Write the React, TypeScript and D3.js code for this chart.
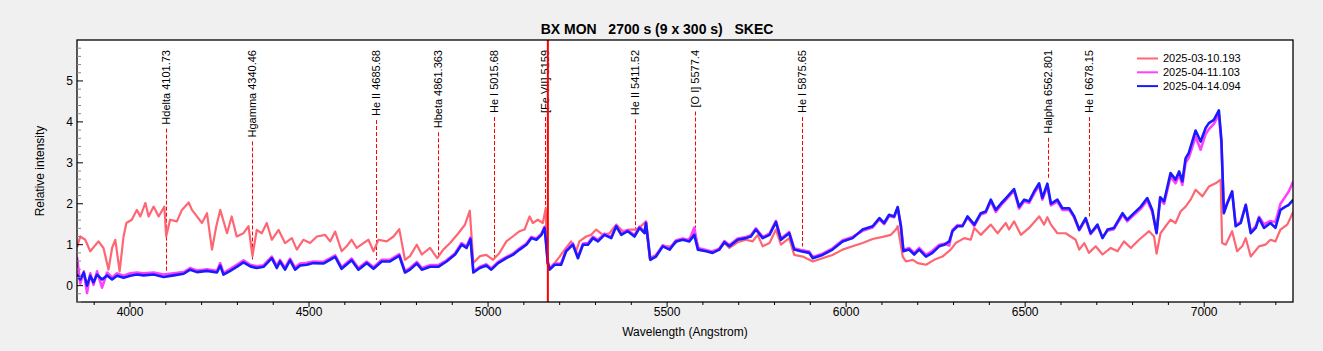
import React, { useEffect, useRef } from 'react';
import * as d3 from 'd3';

// spectrum 2025-03-10.193 (wavelength in Angstrom, relative intensity)
const pinkWave = [
  3852, 3861, 3875, 3889, 3912, 3926, 3940, 3950, 3959, 3971, 3982, 3990, 4005, 4019, 4029, 4043, 4052, 4066, 4080, 4096,
  4101, 4112, 4131, 4145, 4164, 4173, 4187, 4201, 4215, 4229, 4241, 4252, 4271, 4284, 4298, 4317, 4331, 4342, 4354, 4368,
  4382, 4396, 4415, 4433, 4452, 4466, 4484, 4503, 4522, 4545, 4559, 4573, 4591, 4605, 4619, 4633, 4652, 4666, 4680, 4694,
  4717, 4736, 4752, 4768, 4782, 4801, 4815, 4838, 4858, 4875, 4894, 4917, 4935, 4949, 4959, 4977, 4995, 5014, 5032, 5051,
  5069, 5088, 5102, 5116, 5125, 5139, 5153, 5161, 5165, 5172, 5186, 5200, 5214, 5232, 5246, 5255, 5274, 5288, 5302, 5321,
  5339, 5358, 5376, 5395, 5413, 5427, 5441, 5451, 5469, 5488, 5511, 5534, 5558, 5576, 5590, 5618, 5646, 5660, 5674, 5697,
  5720, 5739, 5753, 5767, 5786, 5804, 5818, 5841, 5855, 5879, 5907, 5934, 5962, 5990, 6018, 6046, 6074, 6102, 6125, 6139,
  6144, 6158, 6167, 6186, 6200, 6223, 6246, 6269, 6292, 6306, 6330, 6348, 6358, 6376, 6404, 6423, 6446, 6455, 6469, 6488,
  6511, 6539, 6553, 6562, 6572, 6590, 6613, 6641, 6651, 6665, 6678, 6697, 6716, 6739, 6758, 6776, 6795, 6818, 6846, 6860,
  6867, 6878, 6906, 6920, 6934, 6948, 6962, 6976, 6995, 7013, 7032, 7046, 7050, 7060, 7078, 7092, 7106, 7116, 7130, 7153,
  7171, 7185, 7199, 7213, 7232, 7249,
];
const pinkFlux = [
  0.93, 1.2, 1.12, 0.84, 1.08, 0.92, 0.39, 0.92, 1.12, 0.35, 1.2, 1.53, 1.61, 1.85, 1.69, 2.02, 1.69, 1.93, 1.69, 1.93,
  1.2, 1.61, 1.57, 1.85, 2.03, 1.85, 1.69, 1.53, 1.77, 0.88, 1.45, 1.85, 1.28, 1.69, 1.2, 1.28, 1.45, 0.72, 1.36, 1.28,
  1.53, 1.12, 1.36, 1.04, 1.16, 0.88, 1.12, 1.04, 1.2, 1.24, 1.08, 1.32, 0.84, 0.96, 1.12, 0.92, 1.04, 1.12, 0.84, 1.12,
  1.08, 1.2, 1.38, 0.63, 0.72, 1.0, 0.76, 0.92, 0.67, 0.88, 1.04, 1.28, 1.48, 1.83, 0.55, 0.72, 0.75, 0.63, 0.8, 1.08,
  1.2, 1.33, 1.37, 1.69, 1.53, 1.61, 1.53, 1.89, 0.55, 0.43, 0.55, 0.71, 0.88, 1.08, 0.84, 1.08, 1.2, 1.24, 1.37, 1.24,
  1.28, 1.49, 1.33, 1.37, 1.37, 1.45, 1.57, 0.67, 0.75, 0.96, 0.96, 1.12, 1.12, 1.28, 0.88, 0.84, 0.88, 1.04, 0.92, 1.06,
  1.12, 1.08, 1.24, 0.96, 1.04, 1.37, 1.0, 1.16, 0.75, 0.71, 0.59, 0.67, 0.75, 0.88, 0.96, 1.04, 1.14, 1.19, 1.24, 1.37,
  1.45, 0.71, 0.59, 0.63, 0.55, 0.51, 0.63, 0.71, 0.88, 1.04, 1.16, 1.12, 1.41, 1.24, 1.49, 1.28, 1.53, 1.37, 1.57, 1.24,
  1.41, 1.69, 1.49, 1.67, 1.49, 1.28, 1.28, 1.12, 0.88, 1.04, 0.8, 0.96, 0.76, 0.92, 0.84, 1.08, 0.92, 1.12, 1.33, 1.2,
  0.78, 1.28, 1.61, 1.53, 1.81, 1.93, 2.1, 2.34, 2.18, 2.42, 2.5, 2.59, 1.04, 1.0, 1.33, 0.84, 0.96, 1.16, 0.71, 0.96,
  1.0, 1.12, 1.08, 1.37, 1.49, 1.81,
];

// spectra 2025-04-11.103 and 2025-04-14.094 share one wavelength grid
const blueWave = [
  3852, 3861, 3871, 3880, 3889, 3898, 3908, 3922, 3936, 3950, 3964, 3982, 4001, 4019, 4038, 4066, 4094, 4122, 4150, 4168,
  4187, 4215, 4243, 4252, 4261, 4280, 4298, 4317, 4336, 4354, 4373, 4396, 4410, 4419, 4433, 4447, 4461, 4475, 4494, 4512,
  4540, 4573, 4591, 4619, 4638, 4661, 4680, 4703, 4726, 4752, 4768, 4782, 4801, 4815, 4838, 4861, 4884, 4908, 4926, 4940,
  4951, 4959, 4977, 4995, 5009, 5028, 5051, 5069, 5088, 5107, 5121, 5135, 5149, 5158, 5167, 5172, 5186, 5204, 5218, 5237,
  5251, 5265, 5279, 5293, 5307, 5325, 5344, 5358, 5372, 5390, 5409, 5423, 5437, 5441, 5453, 5469, 5488, 5507, 5525, 5544,
  5562, 5576, 5586, 5609, 5627, 5646, 5660, 5674, 5697, 5720, 5734, 5748, 5767, 5786, 5804, 5818, 5841, 5855, 5874, 5897,
  5907, 5934, 5962, 5990, 6018, 6046, 6074, 6093, 6106, 6120, 6134, 6144, 6153, 6160, 6176, 6190, 6204, 6223, 6241, 6260,
  6274, 6288, 6297, 6311, 6325, 6339, 6358, 6376, 6390, 6404, 6418, 6432, 6451, 6469, 6483, 6497, 6511, 6525, 6539, 6548,
  6562, 6572, 6590, 6604, 6623, 6637, 6651, 6669, 6683, 6702, 6716, 6730, 6748, 6772, 6785, 6804, 6823, 6841, 6855, 6867,
  6877, 6888, 6906, 6920, 6930, 6939, 6948, 6957, 6976, 6990, 7004, 7013, 7027, 7041, 7048, 7055, 7064, 7078, 7088, 7102,
  7116, 7130, 7144, 7153, 7167, 7185, 7199, 7213, 7227, 7236, 7249,
];
const magentaFlux = [
  0.7, 0.05, 0.35, -0.18, 0.3, 0.02, 0.35, -0.05, 0.32, 0.2, 0.3, 0.24, 0.3, 0.32, 0.3, 0.32, 0.27, 0.3, 0.33, 0.43,
  0.37, 0.4, 0.36, 0.55, 0.31, 0.41, 0.51, 0.62, 0.51, 0.47, 0.5, 0.71, 0.48, 0.63, 0.44, 0.66, 0.44, 0.54, 0.56, 0.59,
  0.58, 0.74, 0.45, 0.66, 0.43, 0.59, 0.45, 0.63, 0.63, 0.77, 0.36, 0.43, 0.58, 0.43, 0.5, 0.5, 0.62, 0.79, 1.04, 0.96,
  1.18, 0.35, 0.46, 0.52, 0.42, 0.58, 0.7, 0.78, 0.91, 1.03, 1.19, 1.15, 1.27, 1.44, 0.58, 0.42, 0.54, 0.54, 0.87, 1.03,
  0.7, 1.03, 1.04, 1.2, 1.12, 1.27, 1.19, 1.48, 1.27, 1.36, 1.23, 1.44, 1.31, 1.56, 0.66, 0.74, 0.99, 0.91, 1.11, 1.15,
  1.11, 1.42, 0.92, 0.87, 0.83, 0.91, 1.09, 0.99, 1.15, 1.19, 1.23, 1.4, 1.19, 1.27, 1.58, 1.15, 1.31, 0.91, 0.87, 0.83,
  0.7, 0.78, 0.91, 1.11, 1.19, 1.34, 1.42, 1.62, 1.5, 1.7, 1.67, 1.9, 1.45, 0.87, 0.92, 0.8, 0.92, 0.75, 0.85, 1.0,
  1.02, 0.98, 1.36, 1.48, 1.47, 1.66, 1.46, 1.74, 1.78, 2.06, 1.8, 1.96, 2.14, 2.32, 1.88, 2.06, 2.02, 2.25, 2.45, 2.1,
  2.44, 1.96, 2.05, 1.85, 1.85, 1.66, 1.35, 1.62, 1.26, 1.46, 1.18, 1.34, 1.38, 1.73, 1.57, 1.73, 1.88, 2.08, 1.8, 1.3,
  2.1, 2.0, 2.66, 2.5, 2.7, 2.46, 3.0, 3.12, 3.64, 3.32, 3.7, 3.82, 3.95, 4.18, 3.5, 1.8, 2.02, 2.3, 1.48, 1.56,
  1.98, 1.32, 1.45, 1.68, 1.5, 1.58, 1.55, 2.0, 2.18, 2.3, 2.55,
];
const blueFlux = [
  0.27, 0.15, 0.32, 0.0, 0.24, 0.08, 0.27, 0.15, 0.25, 0.15, 0.24, 0.19, 0.24, 0.27, 0.25, 0.27, 0.21, 0.25, 0.29, 0.39,
  0.33, 0.36, 0.32, 0.49, 0.27, 0.36, 0.46, 0.57, 0.47, 0.43, 0.46, 0.67, 0.43, 0.59, 0.39, 0.62, 0.39, 0.49, 0.51, 0.55,
  0.54, 0.7, 0.41, 0.62, 0.39, 0.55, 0.41, 0.59, 0.59, 0.73, 0.32, 0.39, 0.54, 0.39, 0.46, 0.46, 0.59, 0.76, 1.0, 0.92,
  1.14, 0.32, 0.43, 0.49, 0.39, 0.55, 0.67, 0.75, 0.88, 1.0, 1.16, 1.12, 1.24, 1.41, 0.55, 0.39, 0.51, 0.51, 0.84, 1.0,
  0.67, 1.0, 1.0, 1.16, 1.08, 1.24, 1.16, 1.45, 1.24, 1.33, 1.2, 1.41, 1.28, 1.53, 0.63, 0.71, 0.96, 0.88, 1.08, 1.12,
  1.08, 1.24, 0.88, 0.84, 0.8, 0.88, 1.06, 0.96, 1.12, 1.16, 1.2, 1.37, 1.16, 1.24, 1.55, 1.12, 1.28, 0.88, 0.84, 0.8,
  0.67, 0.75, 0.88, 1.08, 1.16, 1.37, 1.45, 1.65, 1.53, 1.73, 1.69, 1.92, 1.45, 0.84, 0.88, 0.76, 0.88, 0.71, 0.8, 0.96,
  1.0, 1.08, 1.33, 1.45, 1.45, 1.69, 1.49, 1.77, 1.81, 2.1, 1.85, 2.0, 2.18, 2.36, 1.93, 2.1, 2.06, 2.3, 2.5, 2.14,
  2.49, 2.0, 2.1, 1.89, 1.89, 1.69, 1.37, 1.65, 1.28, 1.49, 1.16, 1.37, 1.41, 1.77, 1.61, 1.77, 1.93, 2.14, 1.85, 1.28,
  2.16, 2.06, 2.75, 2.59, 2.79, 2.55, 3.11, 3.24, 3.79, 3.52, 3.85, 3.97, 4.05, 4.28, 3.56, 1.77, 2.0, 2.3, 1.45, 1.53,
  1.97, 1.28, 1.41, 1.65, 1.41, 1.53, 1.41, 1.85, 1.93, 1.97, 2.1,
];

// identified lines: label, wavelength, lower end of the dashed marker
const lineLabels = [
  'Hdelta 4101.73', 'Hgamma 4340.46', 'He II 4685.68', 'Hbeta 4861.363', 'He I 5015.68', '[Fe VII] 5159',
  'He II 5411.52', '[O I] 5577.4', 'He I 5875.65', 'Halpha 6562.801', 'He I 6678.15',
];
const lineWaves = [4101.73, 4340.46, 4685.68, 4861.363, 5015.68, 5159, 5411.52, 5577.4, 5875.65, 6562.801, 6678.15];
const lineEnds = [0.35, 0.59, 0.63, 0.68, 0.68, 1.68, 1.37, 1.41, 0.96, 2.63, 1.69];

const cursorWave = 5167;

const seriesNames = ['2025-03-10.193', '2025-04-11.103', '2025-04-14.094'];
const seriesColors = ['#ff6673', '#ff40ff', '#1a1aff'];

const xMajor = [4000, 4500, 5000, 5500, 6000, 6500, 7000];
const yMajor = [0, 1, 2, 3, 4, 5];

const FONT = "'Liberation Sans', Arial, sans-serif";

const App: React.FC = () => {
  const chartRef = useRef<SVGSVGElement | null>(null);

  useEffect(() => {
    const svg = d3.select(chartRef.current);
    svg.selectAll('*').remove();

    const width = 1323;
    const height = 351;
    const margin = { top: 40, right: 30, bottom: 49, left: 77 };

    const x = d3.scaleLinear().domain([3852, 7248]).range([margin.left, width - margin.right]);
    const y = d3.scaleLinear().domain([-0.4, 6.0]).range([height - margin.bottom, margin.top]);

    svg.append('rect').attr('width', width).attr('height', height).attr('fill', '#f0f0f0');
    svg
      .append('rect')
      .attr('x', margin.left)
      .attr('y', margin.top)
      .attr('width', width - margin.left - margin.right)
      .attr('height', height - margin.top - margin.bottom)
      .attr('fill', 'white');

    svg
      .append('defs')
      .append('clipPath')
      .attr('id', 'plot-clip')
      .append('rect')
      .attr('x', margin.left)
      .attr('y', margin.top)
      .attr('width', width - margin.left - margin.right)
      .attr('height', height - margin.top - margin.bottom);

    // line markers
    const markers = svg.append('g').attr('font-family', FONT).attr('font-size', 11);
    lineLabels.forEach((label, i) => {
      const lx = Math.round(x(lineWaves[i])) + 0.5;
      const t = markers
        .append('text')
        .attr('transform', `translate(${lx},50) rotate(-90)`)
        .attr('text-anchor', 'end')
        .attr('dy', '0.35em')
        .attr('fill', 'black')
        .text(label);
      const len = (t.node() as SVGTextElement).getComputedTextLength();
      markers
        .append('line')
        .attr('x1', lx)
        .attr('x2', lx)
        .attr('y1', 50 + len + 4)
        .attr('y2', y(lineEnds[i]))
        .attr('stroke', '#ff0000')
        .attr('stroke-width', 1)
        .attr('stroke-dasharray', '4,2');
    });

    // spectra
    const plot = svg.append('g').attr('clip-path', 'url(#plot-clip)');
    const line = d3
      .line<[number, number]>()
      .x((d) => x(d[0]))
      .y((d) => y(d[1]));

    const series: [number, number][][] = [
      pinkWave.map((w, i) => [w, pinkFlux[i]]),
      blueWave.map((w, i) => [w, magentaFlux[i]]),
      blueWave.map((w, i) => [w, blueFlux[i]]),
    ];
    series.forEach((s, i) => {
      plot
        .append('path')
        .datum(s)
        .attr('fill', 'none')
        .attr('stroke', seriesColors[i])
        .attr('stroke-width', i === 0 ? 2.2 : 2.6)
        .attr('stroke-linejoin', 'round')
        .attr('d', line);
    });

    // cursor line
    plot
      .append('line')
      .attr('x1', x(cursorWave))
      .attr('x2', x(cursorWave))
      .attr('y1', margin.top)
      .attr('y2', height - margin.bottom)
      .attr('stroke', '#ff0000')
      .attr('stroke-width', 2);

    // frame
    svg
      .append('rect')
      .attr('x', margin.left)
      .attr('y', margin.top)
      .attr('width', width - margin.left - margin.right)
      .attr('height', height - margin.top - margin.bottom)
      .attr('fill', 'none')
      .attr('stroke', 'black')
      .attr('stroke-width', 1.3);

    // x ticks
    const axisG = svg.append('g').attr('font-family', FONT).attr('font-size', 12);
    const yb = height - margin.bottom;
    d3.range(3900, 7249, 100).forEach((v) => {
      const major = v % 500 === 0;
      axisG
        .append('line')
        .attr('x1', x(v))
        .attr('x2', x(v))
        .attr('y1', yb)
        .attr('y2', yb + (major ? 5 : 3))
        .attr('stroke', 'black');
    });
    xMajor.forEach((v) => {
      axisG
        .append('text')
        .attr('x', x(v))
        .attr('y', 316)
        .attr('text-anchor', 'middle')
        .text(String(v));
    });

    // y ticks
    d3.range(-4, 60, 2).forEach((k) => {
      const v = k / 10;
      const major = k % 10 === 0;
      axisG
        .append('line')
        .attr('x1', margin.left)
        .attr('x2', margin.left + (major ? 6 : 4))
        .attr('y1', y(v))
        .attr('y2', y(v))
        .attr('stroke', major ? 'black' : '#888');
    });
    yMajor.forEach((v) => {
      axisG
        .append('text')
        .attr('x', 73)
        .attr('y', y(v))
        .attr('dy', '0.35em')
        .attr('text-anchor', 'end')
        .text(String(v));
    });

    axisG
      .append('text')
      .attr('x', (margin.left + width - margin.right) / 2)
      .attr('y', 336)
      .attr('text-anchor', 'middle')
      .text('Wavelength (Angstrom)');

    axisG
      .append('text')
      .attr('transform', `translate(44,${(margin.top + height - margin.bottom) / 2}) rotate(-90)`)
      .attr('text-anchor', 'middle')
      .text('Relative intensity');

    // title
    svg
      .append('text')
      .attr('x', 657)
      .attr('y', 34)
      .attr('text-anchor', 'middle')
      .attr('font-family', FONT)
      .attr('font-size', 14)
      .attr('font-weight', 'bold')
      .style('white-space', 'pre')
      .text('BX MON   2700 s (9 x 300 s)   SKEC');

    // legend
    const legend = svg.append('g').attr('font-family', FONT).attr('font-size', 11);
    seriesNames.forEach((name, i) => {
      const ly = 58.5 + i * 13.8;
      legend
        .append('line')
        .attr('x1', 1137)
        .attr('x2', 1158)
        .attr('y1', ly)
        .attr('y2', ly)
        .attr('stroke', seriesColors[i])
        .attr('stroke-width', 2);
      legend
        .append('text')
        .attr('x', 1163)
        .attr('y', ly)
        .attr('dy', '0.35em')
        .text(name);
    });
  }, []);

  return (
    <svg
      ref={chartRef}
      width={1323}
      height={351}
      style={{ position: 'absolute', left: 0, top: 0, display: 'block' }}
    ></svg>
  );
};

export default App;
